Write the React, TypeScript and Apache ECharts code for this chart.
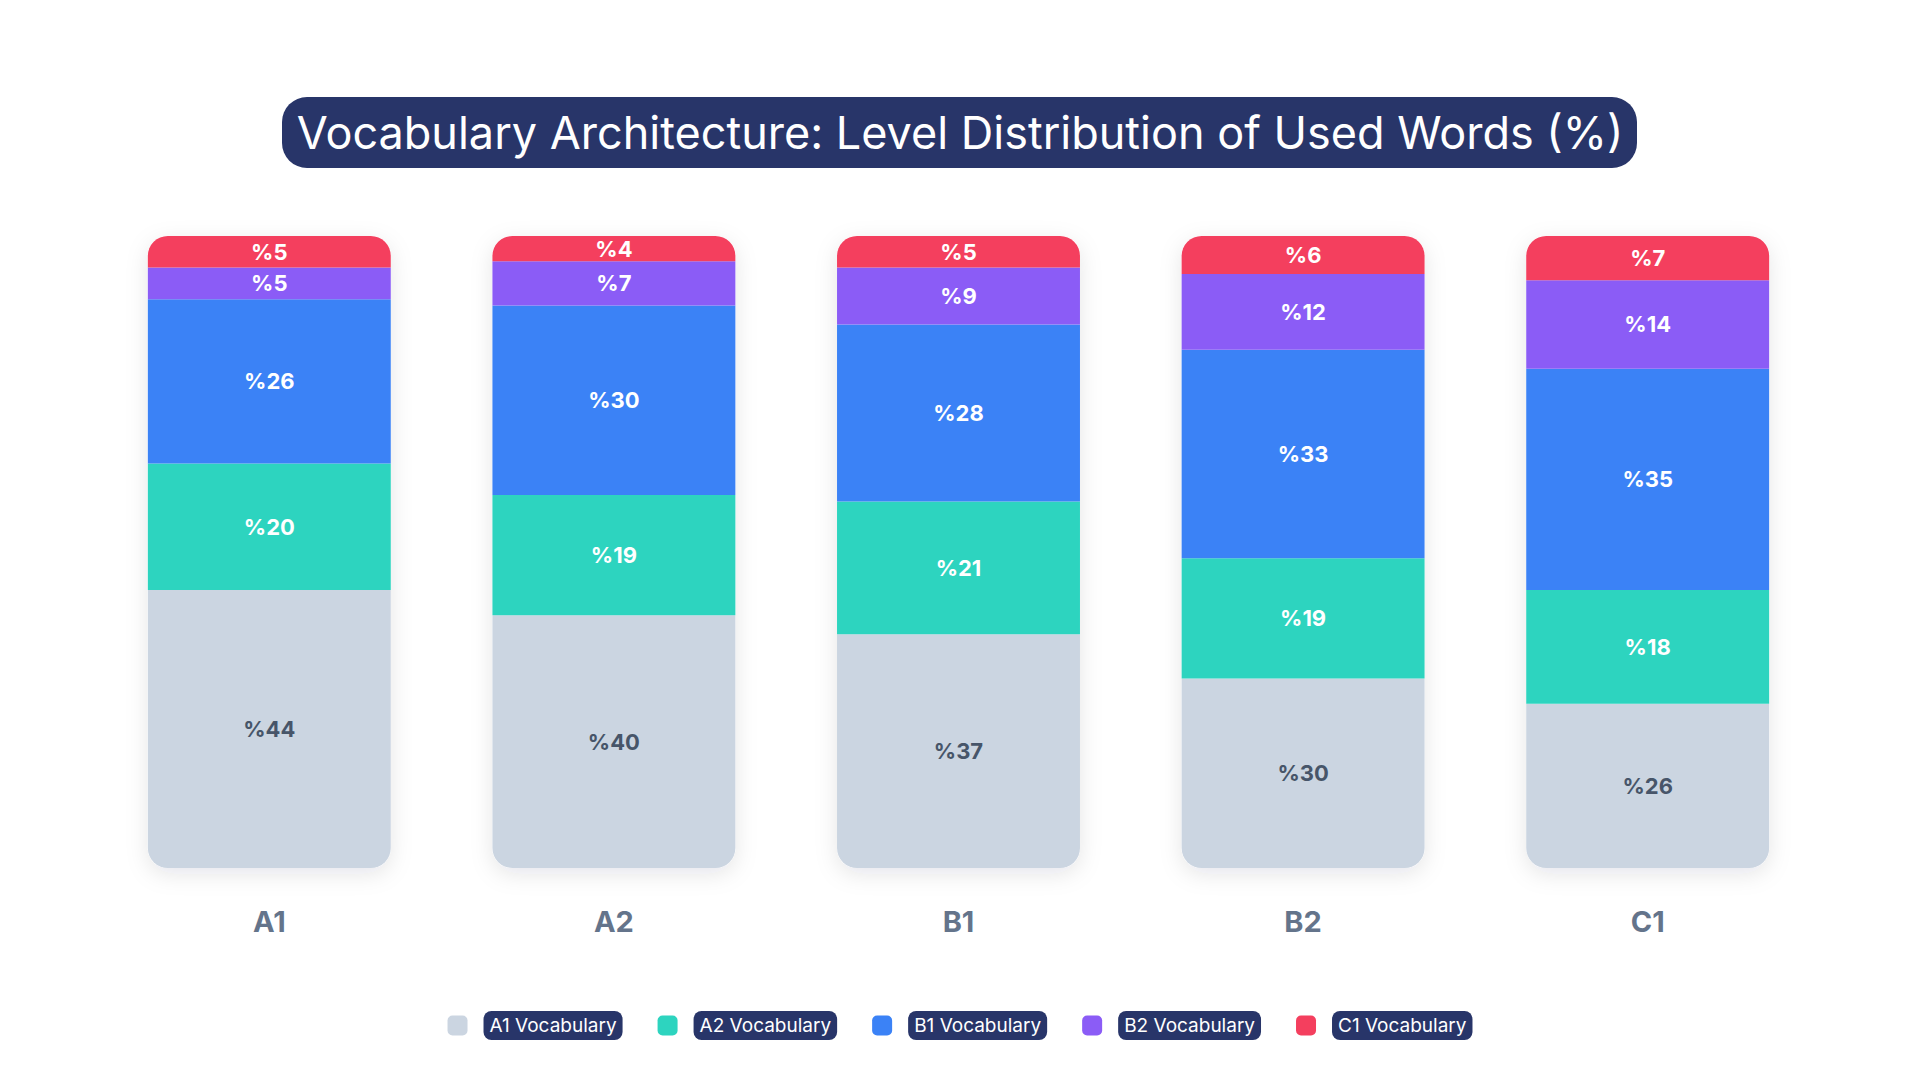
import { useEffect, useRef } from 'react';
import * as echarts from 'echarts';

const levels = ['A1', 'A2', 'B1', 'B2', 'C1'];
const seriesNames = ['A1 Vocabulary', 'A2 Vocabulary', 'B1 Vocabulary', 'B2 Vocabulary', 'C1 Vocabulary'];
const a1Vocab = [44, 40, 37, 30, 26];
const a2Vocab = [20, 19, 21, 19, 18];
const b1Vocab = [26, 30, 28, 33, 35];
const b2Vocab = [5, 7, 9, 12, 14];
const c1Vocab = [5, 4, 5, 6, 7];

const colors = ['#cbd5e1', '#2dd4bf', '#3b82f6', '#8b5cf6', '#f43f5e'];
const navy = '#283569';
const FONT = 'Inter, "Noto Sans", sans-serif';

export default function App() {
  const chartRef = useRef<HTMLDivElement>(null);

  useEffect(() => {
    document.body.style.margin = '0';
    if (!chartRef.current) return;
    const chart = echarts.init(chartRef.current, undefined, { renderer: 'svg' });

    const values = [a1Vocab, a2Vocab, b1Vocab, b2Vocab, c1Vocab];
    const last = values.length - 1;

    const series = values.map((data, i) => ({
      name: seriesNames[i],
      type: 'bar' as const,
      stack: 'total',
      data,
      barWidth: '70.5%',
      showBackground: i === 0,
      backgroundStyle: {
        color: '#ffffff',
        borderRadius: 20,
        shadowBlur: 22,
        shadowOffsetY: 6,
        shadowColor: 'rgba(15, 23, 42, 0.10)',
      },
      itemStyle: {
        color: colors[i],
        borderRadius: i === 0 ? [0, 0, 20, 20] : i === last ? [20, 20, 0, 0] : 0,
      },
      label: {
        show: true,
        position: 'inside' as const,
        formatter: (p: any) => '%' + p.value,
        color: i === 0 ? '#475569' : '#ffffff',
        fontSize: 22,
        fontWeight: 'bold' as const,
        fontFamily: FONT,
      },
      emphasis: { disabled: true },
    }));

    chart.setOption({
      animation: false,
      backgroundColor: '#ffffff',
      textStyle: { fontFamily: FONT },
      color: colors,
      graphic: [
        {
          type: 'rect',
          z: 0,
          shape: { x: 282, y: 97, width: 1355, height: 71, r: 25 },
          style: { fill: navy },
        },
      ],
      title: {
        text: 'Vocabulary Architecture: Level Distribution of Used Words (%)',
        left: 'center',
        top: 97,
        padding: 0,
        z: 10,
        textStyle: {
          color: '#ffffff',
          fontSize: 45,
          fontWeight: 400,
          lineHeight: 71,
          fontFamily: FONT,
        },
      },
      legend: {
        data: seriesNames,
        bottom: 35,
        left: 'center',
        icon: 'roundRect',
        itemWidth: 20,
        itemHeight: 20,
        itemGap: 35,
        selectedMode: false,
        formatter: (name: string) => `{g|}{p|${name}}`,
        textStyle: {
          rich: {
            g: { width: 11 },
            p: {
              backgroundColor: navy,
              borderRadius: 8,
              padding: [5, 6],
              color: '#ffffff',
              fontSize: 19,
              lineHeight: 22,
              fontFamily: FONT,
            },
          },
        },
      },
      grid: {
        left: 97,
        right: 100,
        top: 236,
        bottom: 212,
      },
      xAxis: {
        type: 'category',
        data: levels,
        axisLine: { show: false },
        axisTick: { show: false },
        axisLabel: {
          color: '#64748b',
          fontSize: 29,
          fontWeight: 'bold',
          lineHeight: 29,
          margin: 39,
          fontFamily: FONT,
        },
      },
      yAxis: {
        type: 'value',
        min: 0,
        max: 100,
        show: false,
      },
      series,
    });

    return () => {
      chart.dispose();
    };
  }, []);

  return <div ref={chartRef} style={{ width: 1920, height: 1080 }} />;
}
